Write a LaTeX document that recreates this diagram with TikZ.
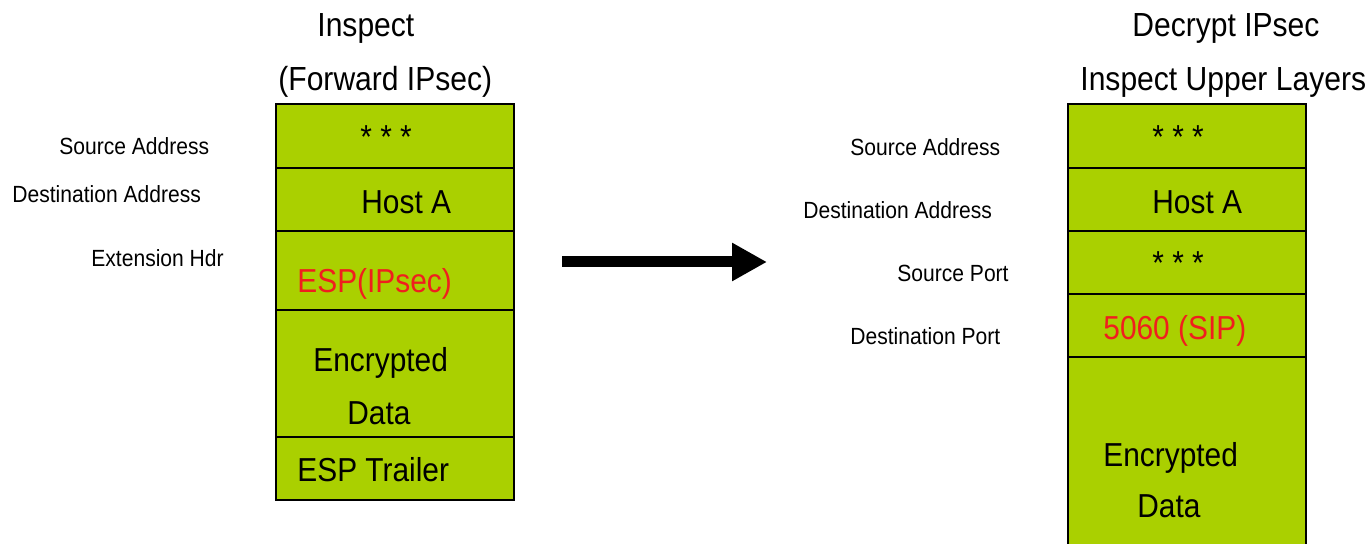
\documentclass[tikz,border=0pt]{standalone}
\usepackage{fontspec}
\setmainfont[FakeStretch=0.9]{Liberation Sans}
\usetikzlibrary{arrows.meta, positioning}

\definecolor{cellgreen}{RGB}{170,208,0}
\definecolor{hdrred}{RGB}{240,30,30}

\begin{document}
\begin{tikzpicture}[
    x=0.5pt, y=-0.5pt,
    % Node styles
    cell/.style={
        rectangle, draw=black, fill=cellgreen, line width=1pt,
        inner sep=0pt, outer sep=0pt, minimum width=119pt, minimum height=#1,
        anchor=north
    },
    celltext/.style={
        font=\fontsize{16.6}{19}\selectfont, inner sep=0pt, anchor=base west
    },
    hdrtext/.style={celltext, text=hdrred},
    title/.style={
        font=\fontsize{16.7}{19}\selectfont, inner sep=0pt, anchor=base west
    },
    fieldname/.style={
        font=\fontsize{11.7}{14}\selectfont, inner sep=0pt, anchor=base west
    },
    bigarrow/.style={
        -{Triangle[length=17.5pt, width=18pt]}, line width=5.5pt
    },
]

\useasboundingbox (0,0) rectangle (1372,544);

% ---------------------------------------------------------------
% Left packet: forwarded IPsec
% ---------------------------------------------------------------

\node[cell=32pt] (L1) at (395,104) {};
\node[cell=31.5pt, below=0pt of L1] (L2) {};
\node[cell=39.5pt, below=0pt of L2] (L3) {};
\node[cell=63.5pt, below=0pt of L3] (L4) {};
\node[cell=31.5pt, below=0pt of L4] (L5) {};

\node[celltext] (L1t) at (360,149) {* * *};
\node[celltext] (L2t) at (361,214) {Host A};
\node[hdrtext] (L3t) at (297,293) {ESP(IPsec)};
\node[celltext] (L4t) at (313,372) {Encrypted};
\node[celltext] (L4u) at (347,425) {Data};
\node[celltext] (L5t) at (297,482) {ESP Trailer};

\node[title] (Ltitle1) at (317,37) {Inspect};
\node[title] (Ltitle2) at (278,91) {(Forward IPsec)};

\node[fieldname] (Lsrc) at (59,155) {Source Address};
\node[fieldname] (Ldst) at (12,203) {Destination Address};
\node[fieldname] (Lext) at (91,267) {Extension Hdr};

% ---------------------------------------------------------------
% Arrow
% ---------------------------------------------------------------

\coordinate (arrS) at (562,262);
\coordinate (arrE) at (767,262);
\draw[bigarrow] (arrS) -- (arrE);

% ---------------------------------------------------------------
% Right packet: decrypted, upper layers visible
% ---------------------------------------------------------------

\node[cell=32pt] (R1) at (1187,104) {};
\node[cell=31.5pt, below=0pt of R1] (R2) {};
\node[cell=31.5pt, below=0pt of R2] (R3) {};
\node[cell=31.5pt, below=0pt of R3] (R4) {};
\node[cell=101.5pt, below=0pt of R4] (R5) {};

\node[celltext] (R1t) at (1152,149) {* * *};
\node[celltext] (R2t) at (1152,214) {Host A};
\node[celltext] (R3t) at (1152,275) {* * *};
\node[hdrtext] (R4t) at (1103,340) {5060 (SIP)};
\node[celltext] (R5t) at (1103,467) {Encrypted};
\node[celltext] (R5u) at (1137,518) {Data};

\node[title] (Rtitle1) at (1132,37) {Decrypt IPsec};
\node[title] (Rtitle2) at (1080,91) {Inspect Upper Layers};

\node[fieldname] (Rsrc) at (850,156) {Source Address};
\node[fieldname] (Rdst) at (803,219) {Destination Address};
\node[fieldname] (Rsport) at (897,282) {Source Port};
\node[fieldname] (Rdport) at (850,345) {Destination Port};

\end{tikzpicture}
\end{document}
